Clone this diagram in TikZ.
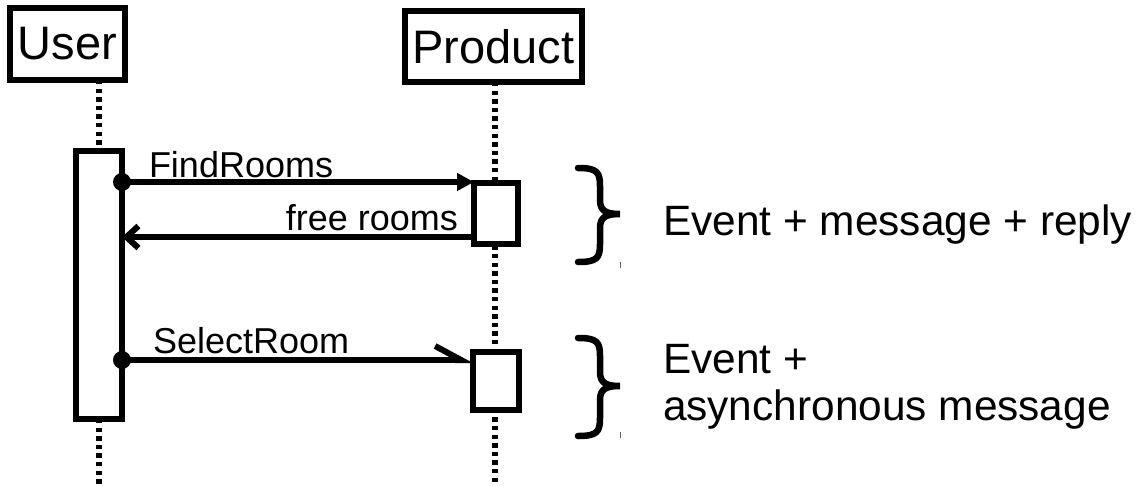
\documentclass[tikz,border=0pt]{standalone}
\usepackage{fontspec}
\setmainfont{Liberation Sans}
\usetikzlibrary{arrows.meta}
\begin{document}
\begin{tikzpicture}[x=1pt,y=-1pt,
  every node/.style={inner sep=0pt,outer sep=0pt},
  lifebox/.style={draw,line width=6pt,font=\fontsize{47}{50}\selectfont},
  actbox/.style={draw,line width=6pt,fill=white},
  lifeline/.style={line width=6pt,dash pattern=on 4.3pt off 4.3pt},
  msg/.style={line width=6pt},
  msglabel/.style={font=\fontsize{36}{40}\selectfont},
  note/.style={font=\fontsize{42.4}{47}\selectfont,anchor=base west},
  bracket/.style={line width=6.5pt,line cap=round},
  tick/.style={line width=1pt,black!60}]
\useasboundingbox (0,0) rectangle (1137,485);

% participants
\node[lifebox,minimum width=115pt,minimum height=72pt] (user) at (67.5,44) {User};
\node[lifebox,minimum width=177pt,minimum height=71pt] (product) at (493.5,46.5) {Product};

% lifeline ends at the bottom edge
\coordinate (userend) at (99,485);
\coordinate (prodend) at (495,485);

% activation bars
\node[actbox,minimum width=46pt,minimum height=268pt] (useract) at (99,285) {};
\draw[lifeline] (user.south -| useract.north) -- (useract.north);
\draw[lifeline] (useract.south) -- (userend);
\draw[lifeline] (product.south -| prodend) -- (prodend);
\node[actbox,minimum width=44pt,minimum height=61pt] (act1) at (496,213.5) {};
\node[actbox,minimum width=46pt,minimum height=58pt] (act2) at (496,381) {};

% FindRooms: synchronous call
\draw[msg,-{Triangle[length=17pt,width=17pt]}] (useract.east |- 0,182) -- (act1.west |- 0,182);
\fill (useract.east |- 0,182) circle (9pt);
\node[msglabel,anchor=base west] (findlbl) at (149,177) {FindRooms};

% free rooms: reply
\draw[msg,-{Straight Barb[length=12pt,width=22pt]}] (act1.west |- 0,237) -- (useract.east |- 0,237);
\node[msglabel,anchor=base east] (freelbl) at (458,230) {free rooms};

% SelectRoom: asynchronous message
\draw[msg,-{Straight Barb[left,length=26pt,width=28pt]}] (useract.east |- 0,360) -- (act2.west |- 0,360);
\fill (useract.east |- 0,360) circle (9pt);
\node[msglabel,anchor=base west] (sellbl) at (153,353) {SelectRoom};

% braces
\draw[bracket] (578,168) .. controls (597,168) and (600,172) .. (600,186) -- (600,200)
  .. controls (600,211) and (606,214) .. (620,214)
  .. controls (606,214) and (600,217) .. (600,228) -- (600,244)
  .. controls (600,258) and (597,262) .. (578,262);
\draw[tick] (620,262) -- (620,268);
\draw[bracket] (578,338) .. controls (597,338) and (600,342) .. (600,356) -- (600,372)
  .. controls (600,383) and (606,386) .. (620,386)
  .. controls (606,386) and (600,389) .. (600,400) -- (600,418)
  .. controls (600,432) and (597,436) .. (578,436);
\draw[tick] (620,432) -- (620,438);

% notes
\node[note] (note1) at (663,235) {Event + message + reply};
\node[note] (note2) at (663,373) {Event +};
\node[note] (note3) at (663,420) {asynchronous message};
\end{tikzpicture}
\end{document}
